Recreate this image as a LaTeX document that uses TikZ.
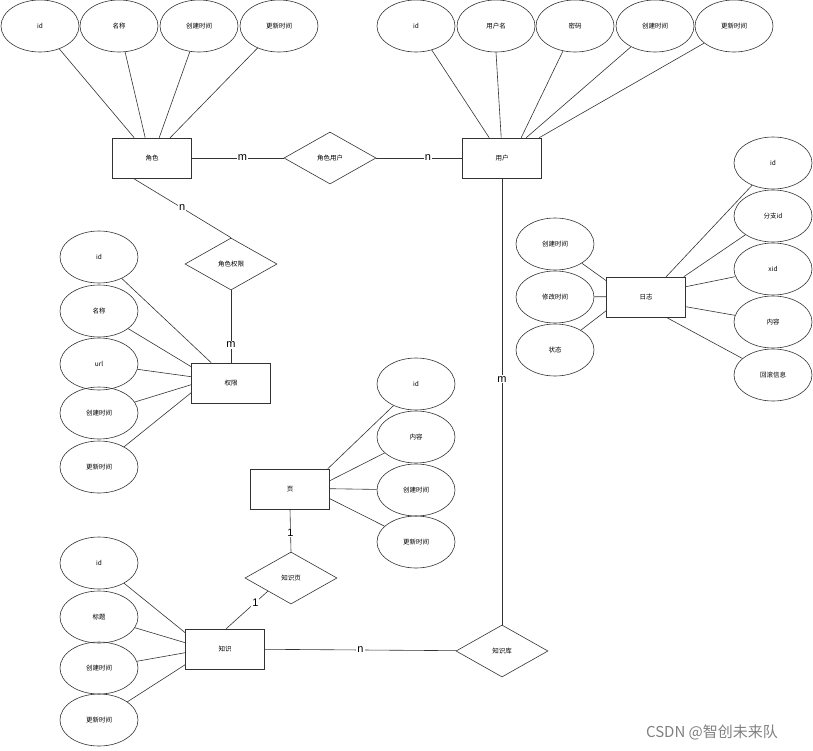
\documentclass[tikz,border=0pt]{standalone}
\usepackage{fontspec}
\setmainfont{Liberation Sans}
\newfontfamily\cjk{Noto Sans CJK SC}
\usetikzlibrary{shapes.geometric}
\begin{document}
\begin{tikzpicture}[x=1pt,y=-1pt,font=\cjk\fontsize{6.5}{7}\selectfont,
 attr/.style={ellipse,draw,minimum width=78pt,minimum height=52pt,inner sep=0pt},
 en/.style={rectangle,draw,minimum width=79pt,minimum height=40pt},
 rel/.style={diamond,draw,minimum width=92pt,minimum height=52pt,inner sep=0pt,aspect=1.77},
 lab/.style={font=\fontsize{11}{12}\selectfont,fill=white,inner sep=1pt},
 line width=0.6pt,draw=black!80]
\path[use as bounding box] (0,0) rectangle (813,750);
% entities
\node[en] (role) at (152,158) {角色};
\node[en] (user) at (502,158) {用户};
\node[en] (perm) at (231,383) {权限};
\node[en] (page) at (290,489) {页};
\node[en] (know) at (225,649) {知识};
\node[en] (log) at (646,297) {日志};
% relations
\node[rel] (ru) at (330,158) {角色用户};
\node[rel] (rp) at (231,264) {角色权限};
\node[rel] (kp) at (291,578) {知识页};
\node[rel] (kb) at (502,651) {知识库};
% role attrs
\node[attr] (r1) at (40,26) {id};
\node[attr] (r2) at (119,26) {名称};
\node[attr] (r3) at (199,26) {创建时间};
\node[attr] (r4) at (279,26) {更新时间};
% user attrs
\node[attr] (u1) at (416,26) {id};
\node[attr] (u2) at (496,26) {用户名};
\node[attr] (u3) at (575,26) {密码};
\node[attr] (u4) at (655,26) {创建时间};
\node[attr] (u5) at (734,26) {更新时间};
% perm attrs
\node[attr] (p1) at (99,257) {id};
\node[attr] (p2) at (99,311) {名称};
\node[attr] (p3) at (99,364) {url};
\node[attr] (p4) at (99,413) {创建时间};
\node[attr] (p5) at (99,467) {更新时间};
% page attrs
\node[attr] (g1) at (416,384) {id};
\node[attr] (g2) at (416,437) {内容};
\node[attr] (g3) at (416,490) {创建时间};
\node[attr] (g4) at (416,542) {更新时间};
% knowledge attrs
\node[attr] (k1) at (99,563) {id};
\node[attr] (k2) at (99,617) {标题};
\node[attr] (k3) at (99,668) {创建时间};
\node[attr] (k4) at (99,720) {更新时间};
% log attrs
\node[attr] (l1) at (555,244) {创建时间};
\node[attr] (l2) at (555,297) {修改时间};
\node[attr] (l3) at (555,350) {状态};
\node[attr] (l4) at (773,163) {id};
\node[attr] (l5) at (773,216) {分支id};
\node[attr] (l6) at (773,269) {xid};
\node[attr] (l7) at (773,322) {内容};
\node[attr] (l8) at (773,375) {回滚信息};
% attribute lines
\draw (r1) -- ([xshift=22pt]role.north west);
\draw (r2) -- ([xshift=33pt]role.north west);
\draw (r3) -- ([xshift=47pt]role.north west);
\draw (r4) -- ([xshift=58pt]role.north west);
\draw (u1) -- ([xshift=27pt]user.north west);
\draw (u2.south) -- ([xshift=39pt]user.north west);
\draw (u3) -- ([xshift=59pt]user.north west);
\draw (u4) -- ([xshift=64pt]user.north west);
\draw (u5) -- ([xshift=77pt]user.north west);
\draw (p1) -- ([xshift=20pt]perm.north west);
\draw (p2) -- ([yshift=-4pt]perm.north west);
\draw (p3) -- ([yshift=-14pt]perm.north west);
\draw (p4) -- ([yshift=-22pt]perm.north west);
\draw (p5) -- ([yshift=-30pt]perm.north west);
\draw (g1) -- ([xshift=-2pt]page.north east);
\draw (g2) -- ([yshift=-12pt]page.north east);
\draw (g3) -- ([yshift=-20pt]page.north east);
\draw (g4) -- ([yshift=-30pt]page.north east);
\draw (k1) -- ([yshift=-4pt]know.north west);
\draw (k2) -- ([yshift=-14pt]know.north west);
\draw (k3) -- ([yshift=-24pt]know.north west);
\draw (k4) -- ([yshift=-36pt]know.north west);
\draw (l1) -- ([yshift=-4pt]log.north west);
\draw (l2) -- ([yshift=-20pt]log.north west);
\draw (l3) -- ([yshift=-34pt]log.north west);
\draw (l4) -- ([xshift=60pt]log.north west);
\draw (l5) -- ([xshift=-2pt]log.north east);
\draw (l6) -- ([yshift=-10pt]log.north east);
\draw (l7) -- ([yshift=-30pt]log.north east);
\draw (l8) -- ([xshift=60pt]log.south west);
% relationships
\draw (role) -- node[lab,pos=0.55]{m} (ru);
\draw (ru) -- node[lab,pos=0.6]{n} (user);
\draw ([xshift=21pt]role.south west) -- node[lab]{n} (rp.north);
\draw (rp.south) -- node[lab,pos=0.75]{m} (perm.north);
\draw (page.south) -- node[lab,pos=0.55]{1} (kp.north);
\draw (kp.south west) -- node[lab,pos=0.3]{1} ([xshift=41pt]know.north west);
\draw (know) -- node[lab]{n} (kb);
\draw (user.south) -- node[lab,pos=0.45]{m} (kb.north);
\node[font=\cjk\fontsize{15}{16}\selectfont,text=black!50] (wm) at (712,732) {CSDN @智创未来队};
\end{tikzpicture}
\end{document}
